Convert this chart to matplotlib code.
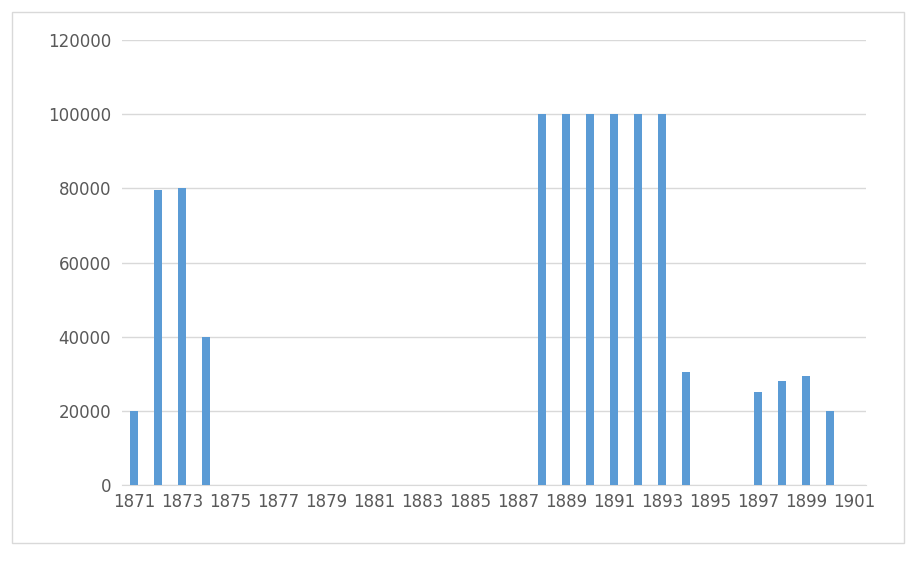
import matplotlib
matplotlib.use("Agg")
import matplotlib.pyplot as plt
from matplotlib.patches import Rectangle

years = list(range(1871, 1902))
values = [20000, 79500, 80000, 40000, 0, 0, 0, 0, 0, 0, 0, 0, 0, 0, 0, 0, 0,
          100000, 100000, 100000, 100000, 100000, 100000, 30500, 0, 0,
          25000, 28000, 29500, 20000, 0]
yticks = [0, 20000, 40000, 60000, 80000, 100000, 120000]

fig = plt.figure(figsize=(9.09, 5.62), dpi=100)
fig.patches.append(Rectangle((12/909, 1-543/562), 892/909, 531/562, transform=fig.transFigure,
                             fill=False, edgecolor="#d9d9d9", linewidth=1))
ax = fig.add_axes([122/909, 1-485/562, 744/909, 445/562])
x = list(range(len(years)))
ax.bar(x, values, width=0.3, color="#5b9bd5", zorder=3)
ax.set_xlim(-0.5, len(years)-0.5)
ax.set_ylim(0, 120000)
ax.set_yticks(yticks)
ax.set_yticklabels([str(v) for v in yticks])
ax.set_xticks(x[::2])
ax.set_xticklabels([str(y) for y in years[::2]])
ax.grid(axis="y", color="#d9d9d9", linewidth=1, zorder=0)
for s in ["top", "right", "left"]:
    ax.spines[s].set_visible(False)
ax.spines["bottom"].set_color("#d9d9d9")
ax.tick_params(length=0, labelsize=12, colors="#595959", pad=8)
ax.tick_params(axis="x", pad=6)
fig.savefig("out.png", dpi=100)
